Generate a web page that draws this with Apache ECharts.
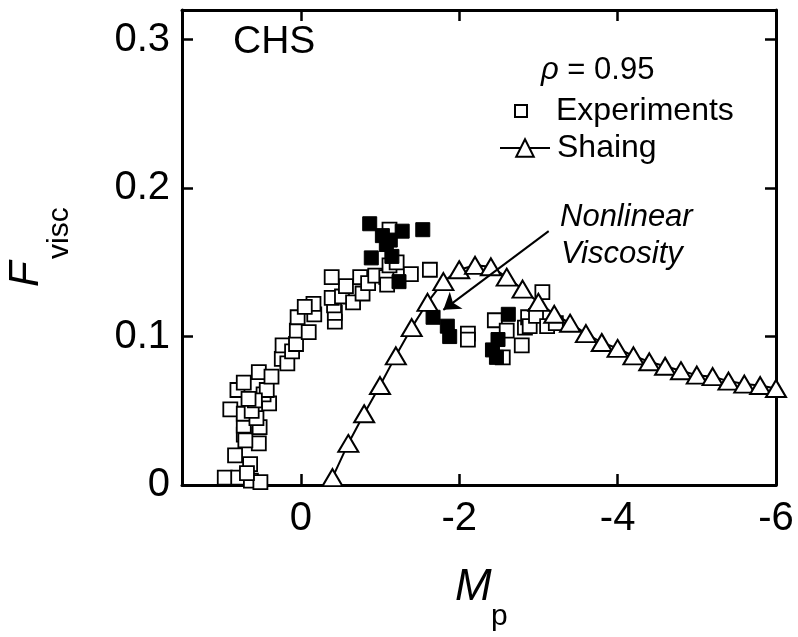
<!DOCTYPE html>
<html><head><meta charset="utf-8">
<script src="https://cdn.jsdelivr.net/npm/echarts@6/dist/echarts.min.js"></script>
<style>html,body{margin:0;padding:0;background:#fff}#c{width:798px;height:637px}</style>
</head><body><div id="c"></div>
<script>
const FONT = "'Liberation Sans', Arial, Helvetica, sans-serif";

// Shaing theory (line + open triangles)
const shaingX = [-0.4,-0.6,-0.8,-1.0,-1.2,-1.4,-1.6,-1.8,-2.0,-2.2,-2.4,-2.6,-2.8,-3.0,-3.2,-3.4,-3.6,-3.8,-4.0,-4.2,-4.4,-4.6,-4.8,-5.0,-5.2,-5.4,-5.6,-5.8,-6.0];
const shaingY = [0.005,0.028,0.048,0.067,0.087,0.106,0.123,0.137,0.145,0.148,0.147,0.140,0.132,0.123,0.115,0.109,0.102,0.096,0.092,0.087,0.083,0.080,0.077,0.074,0.073,0.070,0.068,0.067,0.065];

// Experiments (open squares)
const expOpenX = [0.96,0.79,0.63,0.51,0.83,0.64,0.68,0.72,0.53,0.70,0.72,0.52,0.89,0.72,0.56,0.62,0.40,0.47,0.80,0.72,0.53,0.43,0.37,0.58,0.66,0.24,0.17,0.23,0.11,0.06,0.05,-0.10,0.04,-0.17,-0.16,-0.05,-0.43,-0.43,-0.42,-0.39,-0.52,-0.57,-0.39,-0.66,-0.75,-0.78,-0.85,-0.94,-1.08,-1.09,-1.12,-1.21,-1.39,-1.12,-1.63,-2.11,-2.11,-2.45,-2.60,-2.55,-2.79,-2.83,-2.87,-2.89,-2.97,-3.05,-3.11,-3.22];
const expOpenY = [0.005,0.005,0.003,0.002,0.020,0.014,0.008,0.034,0.028,0.030,0.040,0.039,0.051,0.048,0.045,0.050,0.055,0.061,0.064,0.069,0.076,0.064,0.073,0.057,0.058,0.085,0.082,0.094,0.090,0.095,0.104,0.103,0.113,0.115,0.122,0.120,0.110,0.116,0.121,0.126,0.127,0.134,0.140,0.123,0.140,0.129,0.136,0.141,0.140,0.135,0.148,0.150,0.142,0.172,0.145,0.102,0.098,0.111,0.104,0.086,0.094,0.106,0.113,0.107,0.114,0.130,0.107,0.109];

// Experiments (filled squares)
const expFilledX = [-0.87,-1.03,-1.13,-1.28,-1.54,-0.89,-1.15,-1.24,-1.08,-1.67,-1.85,-1.88,-2.62,-2.49,-2.42,-2.47];
const expFilledY = [0.176,0.168,0.165,0.171,0.172,0.153,0.154,0.137,0.162,0.113,0.107,0.100,0.115,0.098,0.091,0.086];

// Tick labels
const xTickValues = [0,-2,-4,-6];
const yTickValues = [0,0.1,0.2,0.3];

// Annotation arrow (data coordinates)
const arrowFrom = [-3.13, 0.171];
const arrowTo = [-1.80, 0.118];

const zip = (xs, ys) => xs.map((x, i) => [x, ys[i]]);
const near = (v, arr) => arr.find(t => Math.abs(t - v) < 1e-6);

const axisCommon = {
  type: 'value',
  axisLine: { show: true, onZero: false, lineStyle: { color: '#000', width: 3 } },
  axisTick: { show: true, inside: true, length: 11, lineStyle: { color: '#000', width: 2.5 } },
  splitLine: { show: false }
};
const labelStyle = { color: '#000', fontSize: 40, fontFamily: FONT };

const chart = echarts.init(document.getElementById('c'), null, { renderer: 'canvas' });
chart.setOption({
  animation: false,
  backgroundColor: '#fff',
  grid: { left: 182, right: 22, top: 10, bottom: 152 },
  xAxis: [
    Object.assign({}, axisCommon, {
      position: 'bottom', min: -6, max: 1.5, interval: 2, inverse: true,
      axisLabel: Object.assign({}, labelStyle, { margin: 14, formatter: v => { const t = near(v, xTickValues); return t === undefined ? '' : String(t); } })
    }),
    Object.assign({}, axisCommon, {
      position: 'top', min: -6, max: 1.5, interval: 2, inverse: true,
      axisLabel: { show: false }
    })
  ],
  yAxis: [
    Object.assign({}, axisCommon, {
      position: 'left', min: 0, max: 0.32, interval: 0.1,
      axisLabel: Object.assign({}, labelStyle, { margin: 12, formatter: v => { const t = near(v, yTickValues); return t === undefined ? '' : String(t); } })
    }),
    Object.assign({}, axisCommon, {
      position: 'right', min: 0, max: 0.32, interval: 0.1,
      axisLabel: { show: false }
    })
  ],
  legend: [
    {
      data: ['Experiments'], left: 514, top: 95, padding: 0, selectedMode: false,
      itemWidth: 12, itemHeight: 12,
      textStyle: { fontSize: 32, fontFamily: FONT, color: '#000', padding: [0, 0, 0, 24] }
    },
    {
      data: ['Shaing'], left: 499, top: 132, padding: 0, selectedMode: false,
      itemWidth: 50, itemHeight: 22,
      textStyle: { fontSize: 32, fontFamily: FONT, color: '#000', padding: [0, 0, 0, 2] }
    }
  ],
  series: [
    {
      name: 'Experiments', type: 'scatter', data: zip(expOpenX, expOpenY),
      symbol: 'rect', symbolSize: 14,
      itemStyle: { color: '#fff', borderColor: '#000', borderWidth: 1.8, opacity: 1 }
    },
    {
      name: 'Experiments (filled)', type: 'scatter', data: zip(expFilledX, expFilledY),
      symbol: 'rect', symbolSize: 14,
      itemStyle: { color: '#000', borderColor: '#000', borderWidth: 1, opacity: 1 }
    },
    {
      name: 'Shaing', type: 'line', data: zip(shaingX, shaingY),
      symbol: 'triangle', symbolSize: [20, 17], showSymbol: true,
      lineStyle: { color: '#000', width: 2 },
      itemStyle: { color: '#fff', borderColor: '#000', borderWidth: 2 },
      markLine: {
        silent: true, symbol: ['none', 'arrow'], symbolSize: 16,
        label: { show: false },
        lineStyle: { color: '#000', width: 2, type: 'solid' },
        data: [[{ coord: arrowFrom }, { coord: arrowTo }]]
      }
    }
  ],
  graphic: [
    { type: 'text', x: 233, y: 42, style: { text: 'CHS', fontSize: 39, fontFamily: FONT, fill: '#000', align: 'left', verticalAlign: 'middle' } },
    { type: 'text', x: 541, y: 70, style: { text: '{i|ρ} = 0.95', fontSize: 31, fontFamily: FONT, fill: '#000', align: 'left', verticalAlign: 'middle', rich: { i: { fontStyle: 'italic', fontSize: 31, fontFamily: FONT } } } },
    { type: 'text', x: 560, y: 217, style: { text: 'Nonlinear', fontSize: 31, fontStyle: 'italic', fontFamily: FONT, fill: '#000', align: 'left', verticalAlign: 'middle' } },
    { type: 'text', x: 561, y: 254, style: { text: 'Viscosity', fontSize: 31, fontStyle: 'italic', fontFamily: FONT, fill: '#000', align: 'left', verticalAlign: 'middle' } },
    { type: 'text', x: 455, y: 588, style: { text: 'M', fontSize: 44, fontStyle: 'italic', fontFamily: FONT, fill: '#000', align: 'left', verticalAlign: 'middle' } },
    { type: 'text', x: 491, y: 617, style: { text: 'p', fontSize: 30, fontFamily: FONT, fill: '#000', align: 'left', verticalAlign: 'middle' } },
    {
      type: 'group', x: 26, y: 287, rotation: Math.PI / 2,
      children: [
        { type: 'text', x: 0, y: 0, style: { text: 'F', fontSize: 42, fontStyle: 'italic', fontFamily: FONT, fill: '#000', align: 'left', verticalAlign: 'middle' } },
        { type: 'text', x: 28, y: 34, style: { text: 'visc', fontSize: 30, fontFamily: FONT, fill: '#000', align: 'left', verticalAlign: 'middle' } }
      ]
    }
  ]
});
</script></body></html>
